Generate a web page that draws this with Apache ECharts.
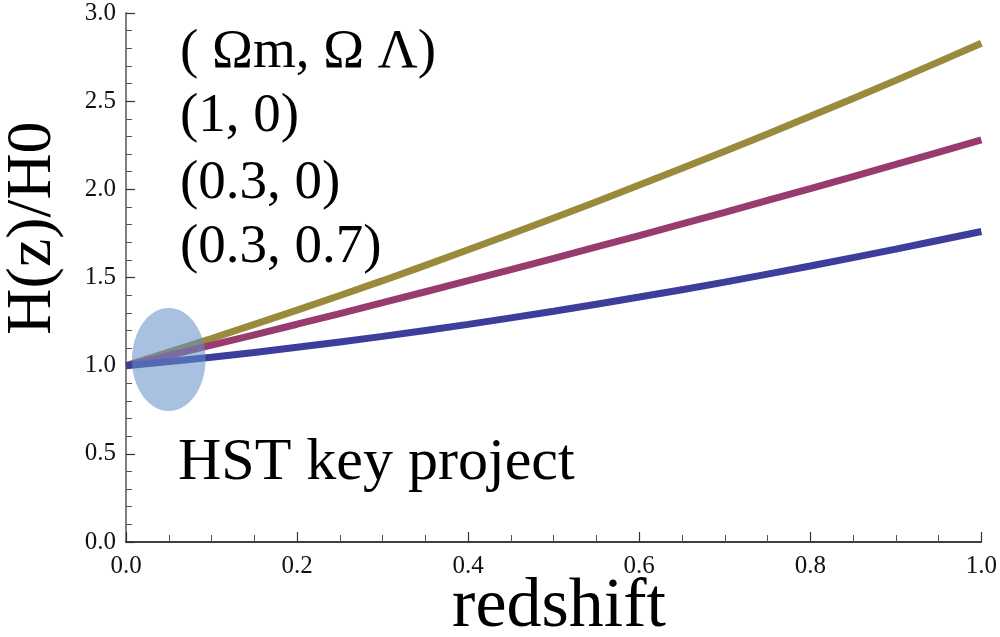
<!DOCTYPE html>
<html>
<head>
<meta charset="utf-8">
<title>H(z)/H0 vs redshift</title>
<script src="https://cdn.jsdelivr.net/npm/echarts@6/dist/echarts.min.js"></script>
<style>
  html, body { margin: 0; padding: 0; background: #ffffff; }
  #chart { width: 1000px; height: 637px; }
</style>
</head>
<body>
<div id="chart"></div>
<script>
// Redshift samples
const redshift = [0.0, 0.1, 0.2, 0.3, 0.4, 0.5, 0.6, 0.7, 0.8, 0.9, 1.0];

// H(z)/H0 for each (Ωm, ΩΛ) model
const hubbleMatterOnly = [1.000, 1.154, 1.315, 1.482, 1.657, 1.837, 2.024, 2.216, 2.414, 2.618, 2.828];   // (1, 0)
const hubbleOpen       = [1.000, 1.116, 1.235, 1.357, 1.482, 1.609, 1.738, 1.870, 2.004, 2.141, 2.280];   // (0.3, 0)
const hubbleLambda     = [1.000, 1.048, 1.104, 1.166, 1.234, 1.309, 1.389, 1.474, 1.565, 1.661, 1.761];   // (0.3, 0.7)

// HST key project constraint region: [centre z, centre H/H0, half-width z, half-height H/H0]
const hstRegion = [0.050, 1.035, 0.043, 0.292];

// Text
const legendLines = ['( Ωm, Ω Λ)', '(1, 0)', '(0.3, 0)', '(0.3, 0.7)'];
const regionLabel = 'HST key project';
const xTitle = 'redshift';
const yTitle = 'H(z)/H0';

const pair = (xs, ys) => xs.map((x, i) => [x, ys[i]]);
const SERIF = '"Liberation Serif", "Times New Roman", serif';

const chart = echarts.init(document.getElementById('chart'), null, { renderer: 'canvas' });

const lineSeries = (data, color) => ({
  type: 'line',
  data: data,
  smooth: 0.3,
  showSymbol: false,
  symbol: 'none',
  z: 2,
  lineStyle: { color: color, width: 7, cap: 'butt' },
  emphasis: { disabled: true }
});

chart.setOption({
  animation: false,
  backgroundColor: '#ffffff',
  grid: { left: 126, right: 17, top: 13, bottom: 95, containLabel: false },
  xAxis: {
    type: 'value',
    min: 0, max: 1, interval: 0.2,
    axisLine: { show: true, onZero: false, lineStyle: { color: '#000000', width: 1.5 } },
    axisTick: { show: true, inside: true, length: 10, lineStyle: { color: '#333333', width: 1.2 } },
    minorTick: { show: true, splitNumber: 4, length: 7, lineStyle: { color: '#555555', width: 1 } },
    splitLine: { show: false },
    axisLabel: {
      margin: 12, color: '#111111', fontFamily: SERIF, fontSize: 25,
      formatter: v => v.toFixed(1)
    }
  },
  yAxis: {
    type: 'value',
    min: 0, max: 3, interval: 0.5,
    axisLine: { show: true, onZero: false, lineStyle: { color: '#808080', width: 2 } },
    axisTick: { show: true, inside: true, length: 9, lineStyle: { color: '#333333', width: 1.2 } },
    minorTick: { show: true, splitNumber: 5, length: 6, lineStyle: { color: '#555555', width: 1 } },
    splitLine: { show: false },
    axisLabel: {
      margin: 10, color: '#111111', fontFamily: SERIF, fontSize: 25,
      formatter: v => v.toFixed(1)
    }
  },
  series: [
    lineSeries(pair(redshift, hubbleMatterOnly), '#9a8a3b'),
    lineSeries(pair(redshift, hubbleOpen), '#983c6f'),
    lineSeries(pair(redshift, hubbleLambda), '#3d3d9b'),
    {
      // translucent ellipse drawn over the curves
      type: 'custom',
      z: 5,
      data: [hstRegion],
      renderItem: function (params, api) {
        const c = api.coord([api.value(0), api.value(1)]);
        const s = api.size([api.value(2), api.value(3)]);
        return {
          type: 'ellipse',
          shape: { cx: c[0], cy: c[1], rx: s[0], ry: s[1] },
          style: { fill: 'rgba(100, 145, 200, 0.56)' }
        };
      },
      silent: true
    }
  ],
  graphic: [
    {
      type: 'text', x: 559, y: 608, z: 10,
      style: { text: xTitle, font: '70px ' + SERIF, fill: '#000', textAlign: 'center', textVerticalAlign: 'middle' }
    },
    {
      type: 'text', x: 33, y: 228, rotation: Math.PI / 2, z: 10,
      style: { text: yTitle, font: '64px ' + SERIF, fill: '#000', textAlign: 'center', textVerticalAlign: 'middle' }
    },
    ...legendLines.map((t, i) => ({
      type: 'text', x: 180, y: [53, 117, 184, 248][i], z: 10,
      style: { text: t, font: '55px ' + SERIF, fill: '#000', textAlign: 'left', textVerticalAlign: 'middle' }
    })),
    {
      type: 'text', x: 178, y: 463, z: 10,
      style: { text: regionLabel, font: '60px ' + SERIF, fill: '#000', textAlign: 'left', textVerticalAlign: 'middle' }
    }
  ]
});
</script>
</body>
</html>
